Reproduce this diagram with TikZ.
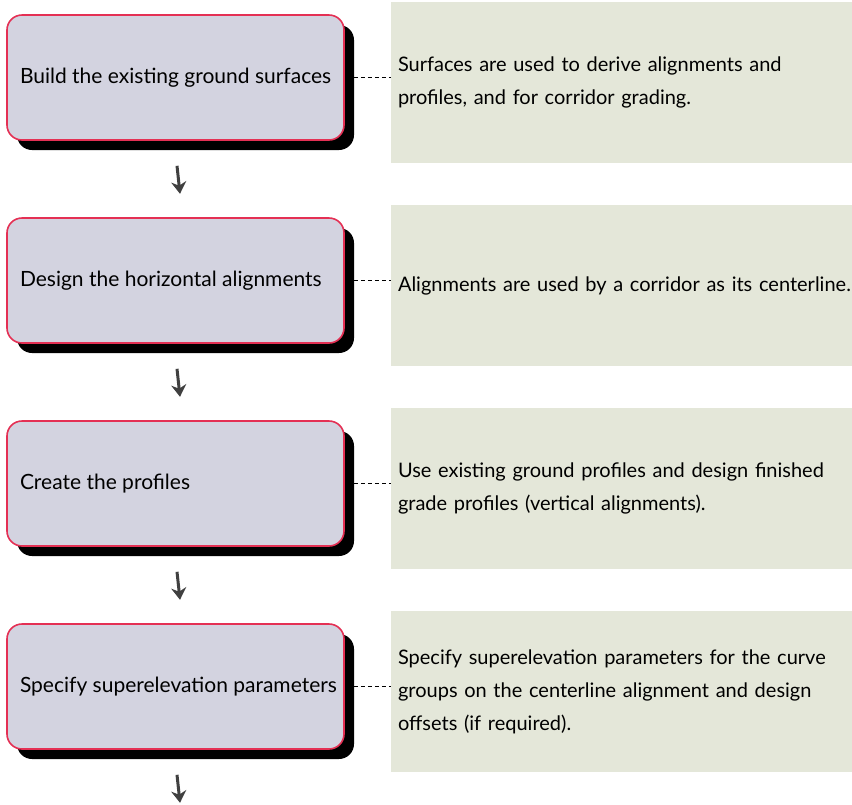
\documentclass[tikz,border=0pt]{standalone}
\usepackage{fontspec}
\setmainfont{Lato}
\usetikzlibrary{positioning,shadows,arrows.meta}
\definecolor{stepfill}{RGB}{211,211,224}
\definecolor{stepline}{RGB}{228,48,84}
\definecolor{notefill}{RGB}{228,231,217}
\definecolor{arrowgray}{RGB}{64,64,64}
% step text is left set and may run a little past the text width
\newcommand{\steptext}[1]{\makebox[311pt][l]{#1}}
\begin{document}
\begin{tikzpicture}[x=1pt, y=-1pt, font=\fontsize{20}{33}\selectfont,
    stepbox/.style={draw=stepline, line width=1.6pt, fill=stepfill, rounded corners=15pt,
      minimum width=337pt, minimum height=125pt, inner xsep=13pt,
      font=\fontsize{21}{33}\selectfont,
      drop shadow={fill=black, opacity=1, shadow xshift=10pt, shadow yshift=-10pt}},
    notebox/.style={fill=notefill, minimum width=461pt, minimum height=161pt,
      text width=447pt, inner xsep=7pt, align=left},
    link/.style={dash pattern=on 4.5pt off 2.5pt, line width=1.5pt, black},
    flow/.style={-{Stealth[length=12pt, width=15pt]}, line width=3pt, arrowgray}]
  \useasboundingbox (0,0) rectangle (852,804);
  % steps on the left, one under another
  \node[stepbox] (b1) at (175.5,77.5) {\steptext{Build the existing ground surfaces}};
  \node[stepbox, below=76.4pt of b1] (b2) {\steptext{Design the horizontal alignments}};
  \node[stepbox, below=76.4pt of b2] (b3) {\steptext{Create the profiles}};
  \node[stepbox, below=76.4pt of b3] (b4) {\steptext{Specify superelevation parameters}};
  % notes sit a little lower than their step; the long line runs to the edge, as in the source
  \node[notebox, right=46pt of b1, yshift=-5pt] (n1) {Surfaces are used to derive alignments and\\profiles, and for corridor grading.};
  \node[notebox, right=46pt of b2, yshift=-5pt] (n2) {\mbox{Alignments are used by a corridor as its centerline.}};
  \node[notebox, right=46pt of b3, yshift=-5pt] (n3) {Use existing ground profiles and design finished\\grade profiles (vertical alignments).};
  \node[notebox, right=46pt of b4, yshift=-5pt] (n4) {Specify superelevation parameters for the curve\\groups on the centerline alignment and design\\offsets (if required).};
  \foreach \i in {1,...,4} {
    \draw[link] ([xshift=9pt]b\i.east) -- (n\i.west |- b\i.east);
    \coordinate (top\i) at ([xshift=1.5pt, yshift=-25pt]b\i.south);
    \coordinate (tip\i) at ([xshift=4.5pt, yshift=-53pt]b\i.south);
    \draw[flow] (top\i) -- (tip\i);
  }
\end{tikzpicture}
\end{document}
